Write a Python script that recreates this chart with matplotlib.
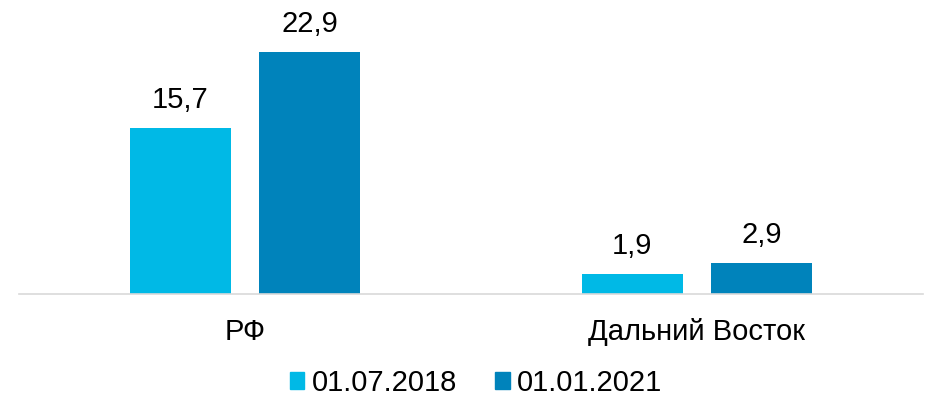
import numpy as np
import matplotlib.pyplot as plt
from matplotlib.patches import Patch

plt.rcParams['font.family'] = ['Liberation Sans', 'DejaVu Sans']

# Data
categories = ['РФ', 'Дальний Восток']
series_names = ['01.07.2018', '01.01.2021']
values_2018 = [15.7, 1.9]
values_2021 = [22.9, 2.9]
colors = ['#00B9E6', '#0083BB']

fig = plt.figure(figsize=(9.37, 4.01), dpi=100)
ax = fig.add_axes([0.02, 0.267, 0.965, 0.66])

x = np.arange(len(categories))
w = 0.224
off = 0.143
for vals, c, dx in [(values_2018, colors[0], -off), (values_2021, colors[1], off)]:
    bars = ax.bar(x + dx, vals, width=w, color=c)
    for b, v in zip(bars, vals):
        ax.text(b.get_x() + b.get_width() / 2, v + 1.3, f'{v:.1f}'.replace('.', ','),
                ha='center', va='bottom', fontsize=21)

ax.set_xlim(-0.5, 1.5)
ax.set_ylim(0, 25)
ax.set_xticks(x)
ax.set_xticklabels(categories, fontsize=21)
ax.tick_params(axis='x', length=0, pad=17)
ax.set_yticks([])
for s in ['top', 'right', 'left']:
    ax.spines[s].set_visible(False)
ax.spines['bottom'].set_color('#D9D9D9')
ax.spines['bottom'].set_linewidth(1.2)

handles = [Patch(color=c) for c in colors]
fig.legend(handles, series_names, loc='center', bbox_to_anchor=(0.508, 0.045), ncol=2,
           frameon=False, fontsize=21, handlelength=0.5, handleheight=0.5,
           handletextpad=0.25, columnspacing=1.3)

fig.savefig('out.png', dpi=100)
